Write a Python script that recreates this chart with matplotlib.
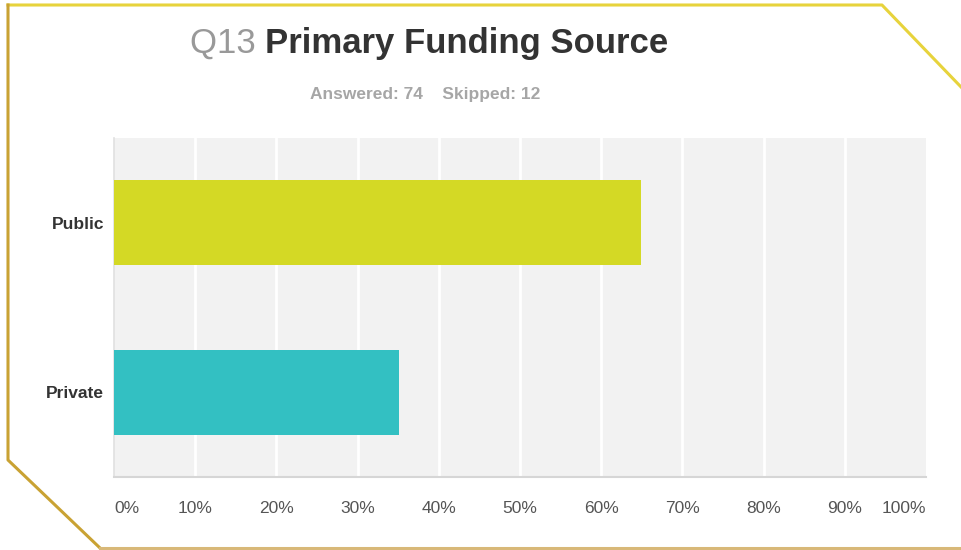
import matplotlib.pyplot as plt
from matplotlib.lines import Line2D

plt.rcParams['font.family'] = ['Liberation Sans', 'DejaVu Sans']

categories = ['Private', 'Public']
answers = [26, 48]
answered = 74
skipped = 12
bar_colors = ['#33c0c2', '#d4d925']
ticks = [0, 10, 20, 30, 40, 50, 60, 70, 80, 90, 100]
tick_labels = ['0%', '10%', '20%', '30%', '40%', '50%', '60%', '70%', '80%', '90%', '100%']

percents = [100.0 * a / answered for a in answers]

W, H = 962, 550
fig = plt.figure(figsize=(W / 100, H / 100), dpi=100)
fig.patch.set_facecolor('white')

# gold outline with clipped corners
def px(x, y):
    return x / W, 1 - y / H

frame = [(8, 5), (882, 5), (962, 88)]
xs, ys = zip(*[px(x, y) for x, y in frame])
fig.add_artist(Line2D(xs, ys, color='#e7d33c', lw=2.2))
frame = [(8, 5), (8, 460), (100, 548)]
xs, ys = zip(*[px(x, y) for x, y in frame])
fig.add_artist(Line2D(xs, ys, color='#c9a233', lw=2.2))
frame = [(100, 548), (962, 548)]
xs, ys = zip(*[px(x, y) for x, y in frame])
fig.add_artist(Line2D(xs, ys, color='#d8b878', lw=2.2))

ax = fig.add_axes([114 / W, 1 - 477 / H, (926 - 114) / W, (477 - 138) / H])
ax.set_facecolor('#f2f2f2')
ax.barh(range(len(categories)), percents, height=0.5, color=bar_colors, zorder=3)
ax.set_xlim(0, 100)
ax.set_ylim(-0.5, 1.5)

for t in ticks[1:-1]:
    ax.axvline(t, color='white', lw=2, zorder=1)

for s in ['top', 'right']:
    ax.spines[s].set_visible(False)
ax.spines['bottom'].set_color('#d6d6d6')
ax.spines['bottom'].set_linewidth(1.5)
ax.spines['left'].set_color('#e0e0e0')
ax.spines['left'].set_linewidth(1.2)

ax.set_yticks(range(len(categories)))
ax.set_yticklabels(categories, fontsize=12.5, fontweight='bold', color='#333333')
ax.set_xticks(ticks)
ax.set_xticklabels(tick_labels, fontsize=12.5, color='#555555')
ax.tick_params(axis='both', length=0)
ax.tick_params(axis='x', pad=17)
ax.tick_params(axis='y', pad=7)
xl = ax.get_xticklabels()
xl[0].set_horizontalalignment('left')
xl[-1].set_horizontalalignment('right')

# title in two colours
t1 = fig.text(190 / W, 1 - 43 / H, 'Q13 ', fontsize=25, color='#999999',
              va='center', ha='left')
fig.canvas.draw()
bb = t1.get_window_extent()
fig.text(bb.x1 / W, 1 - 43 / H, 'Primary Funding Source', fontsize=25,
         fontweight='bold', color='#333333', va='center', ha='left')

fig.text(425 / W, 1 - 94 / H,
         'Answered: %d    Skipped: %d' % (answered, skipped),
         fontsize=12.5, fontweight='bold', color='#a6a6a6', ha='center', va='center')

fig.savefig('out.png', dpi=100, facecolor='white')
